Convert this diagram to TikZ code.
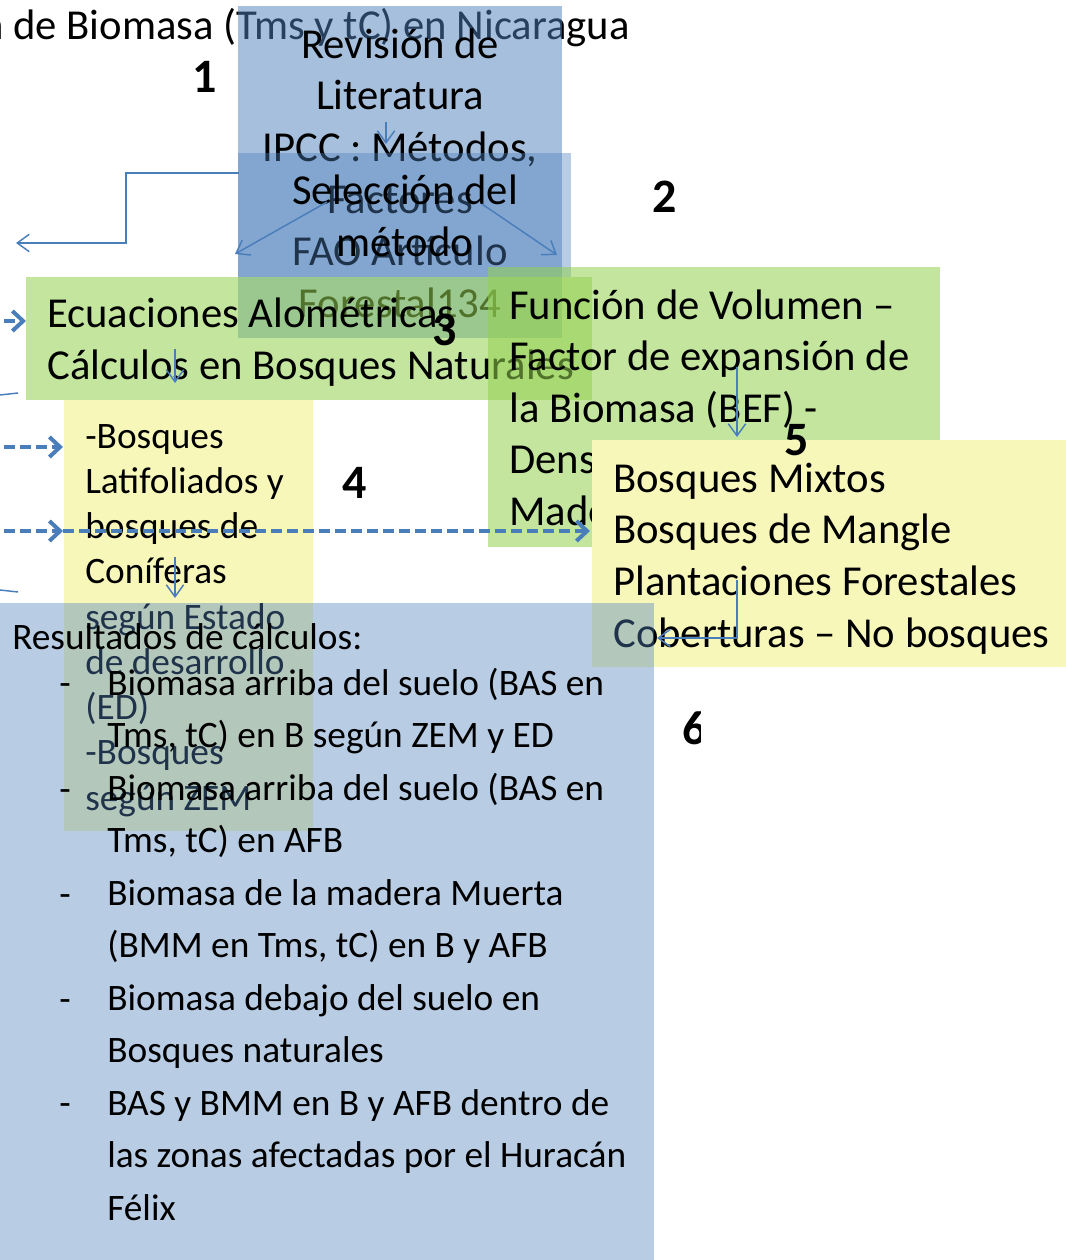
\documentclass[tikz,border=0pt]{standalone}
\usepackage{fontspec}
\setmainfont{Carlito}
\usetikzlibrary{arrows.meta}
\definecolor{accblue}{RGB}{79,129,189}
\definecolor{accgreen}{RGB}{146,208,80}
\definecolor{accyellow}{RGB}{248,247,186}
\definecolor{lineblue}{RGB}{74,126,187}
\tikzset{
  boxnode/.style={inner sep=0pt, outer sep=0pt, anchor=north west, draw=none},
  bigtext/.style={inner sep=0pt, anchor=base west, font=\fontsize{32}{38}\selectfont},
  bigctext/.style={inner sep=0pt, anchor=base, font=\fontsize{32}{38}\selectfont},
  midtext/.style={inner sep=0pt, anchor=base west, font=\fontsize{28}{34}\selectfont},
  numtext/.style={inner sep=0pt, anchor=center, font=\fontsize{36}{40}\selectfont\bfseries},
  conn/.style={draw=lineblue, line width=1.1pt, -{Straight Barb[length=9pt,width=13pt]}},
  dconn/.style={draw=lineblue, line width=3pt, dash pattern=on 8pt off 4pt, -{Straight Barb[length=8pt,width=15pt]}},
  thinline/.style={draw=lineblue, line width=1.1pt},
}
\newcommand\txtlines[6]{\foreach \lntext [count=\lnidx from 0] in {#6}{\node[#5] (#1-\lnidx) at (#2,{#3+\lnidx*#4}) {\lntext};}}
\begin{document}
\begin{tikzpicture}[x=0.75pt,y=-0.75pt]
\useasboundingbox (0,0) rectangle (1066,1260);
\fill[white] (0,0) rectangle (1066,1260);
% title
\node[bigtext, anchor=base east] (title) at (630,39) {n de Biomasa (Tms y tC) en Nicaragua};
% box 1
\node[boxnode, fill=accblue, fill opacity=0.5, minimum width=243pt, minimum height=249pt] (box1) at (238,6) {};
\txtlines{t1}{400}{58}{51.8}{bigctext}{{Revisión de},{Literatura},{IPCC : Métodos,},{Factores},{FAO Artículo},{Forestal134}}
% box 2
\node[boxnode, fill=accblue, fill opacity=0.4, minimum width=249.75pt, minimum height=93pt] (box2) at (238,153) {};
\txtlines{t2}{405}{204}{52}{bigctext}{{Selección del},{método}}
% box 3
\node[boxnode, fill=accgreen, fill opacity=0.55, minimum width=424.5pt, minimum height=92.25pt] (box3) at (26,277) {};
\txtlines{t3}{47}{327}{52}{bigtext}{{Ecuaciones Alométricas},{Cálculos en Bosques Naturales}}
% box 5 green
\node[boxnode, fill=accgreen, fill opacity=0.55, minimum width=339pt, minimum height=210pt] (box5) at (488,267) {};
\txtlines{t5}{509}{319}{51.6}{bigtext}{{Función de Volumen –},{Factor de expansión de},{la Biomasa (BEF) -},{Densidad de la},{Madera}}
% box 4 yellow
\node[boxnode, fill=accyellow, minimum width=186.75pt, minimum height=323.25pt] (box4) at (64,400) {};
\txtlines{t4}{85}{448}{45.25}{midtext}{{-Bosques},{Latifoliados y},{bosques de},{Coníferas},{según Estado},{de desarrollo},{(ED)},{-Bosques},{según ZEM}}
% box 5b yellow
\node[boxnode, fill=accyellow, minimum width=355.5pt, minimum height=170.25pt] (box5b) at (592,440) {};
\txtlines{t5b}{613}{492}{51.7}{bigtext}{{Bosques Mixtos},{Bosques de Mangle},{Plantaciones Forestales},{Coberturas – No bosques}}
% box 6
\node[boxnode, fill=accblue, fill opacity=0.4, minimum width=490.5pt, minimum height=492.75pt] (box6) at (0,603) {};
\node[midtext] (t6h) at (12,649) {Resultados de cálculos:};
\foreach \by [count=\bi] in {695,801,906,1011,1115} {\node[midtext] (bul-\bi) at (59,\by) {-};}
\txtlines{t6}{107}{695}{52.5}{midtext}{{Biomasa arriba del suelo (BAS en},{Tms, tC) en B según ZEM y ED},{Biomasa arriba del suelo (BAS en},{Tms, tC) en AFB},{Biomasa de la madera Muerta},{(BMM en Tms, tC) en B y AFB},{Biomasa debajo del suelo en},{Bosques naturales},{BAS y BMM en B y AFB dentro de},{las zonas afectadas por el Huracán},{Félix}}
% connectors
\coordinate (a1s) at (386,122); \coordinate (a1e) at (386,144);
\draw[conn] (a1s) -- (a1e);
\coordinate (e1s) at (239,173); \coordinate (e1e) at (16,243);
\draw[conn] (e1s) -- ++(-113,0) |- (e1e);
\coordinate (d1s) at (327,202); \coordinate (d1e) at (235,254);
\draw[conn] (d1s) -- (d1e);
\coordinate (d2s) at (482,204); \coordinate (d2e) at (557,255);
\draw[conn] (d2s) -- (d2e);
\coordinate (a3s) at (175,349); \coordinate (a3e) at (175,383);
\draw[conn] (a3s) -- (a3e);
\coordinate (a4s) at (175,557); \coordinate (a4e) at (175,598);
\draw[conn] (a4s) -- (a4e);
\coordinate (a5s) at (737,367); \coordinate (a5e) at (737,437);
\draw[conn] (a5s) -- (a5e);
\coordinate (e5s) at (737,580); \coordinate (e5e) at (657,638);
\draw[conn] (e5s) |- (e5e);
% dashed
\coordinate (x0s) at (-12,321); \coordinate (x0e) at (26,321);
\draw[dconn] (x0s) -- (x0e);
\coordinate (x1s) at (-12,447); \coordinate (x1e) at (63,447);
\draw[dconn] (x1s) -- (x1e);
\coordinate (x2s) at (-12,531); \coordinate (x2e) at (63,531);
\draw[dconn] (x2s) -- (x2e);
\coordinate (x3e) at (590,531);
\draw[dconn] (x2e) -- (x3e);
% thin line ends at left
\coordinate (c1s) at (0,395); \coordinate (c1e) at (18,393);
\draw[thinline] (c1s) -- (c1e);
\coordinate (c2s) at (0,590); \coordinate (c2e) at (18,592);
\draw[thinline] (c2s) -- (c2e);
% numbers
\node[numtext] (n1) at (205,77) {1};
\node[numtext] (n2) at (665,197) {2};
\node[numtext] (n3) at (445,330) {3};
\node[numtext] (n4) at (355,483) {4};
\node[numtext] (n5) at (797,440) {5};
\begin{scope}
\clip (600,690) rectangle (700,770);
\node[numtext] (n6) at (695,728) {6};
\end{scope}
\end{tikzpicture}
\end{document}
